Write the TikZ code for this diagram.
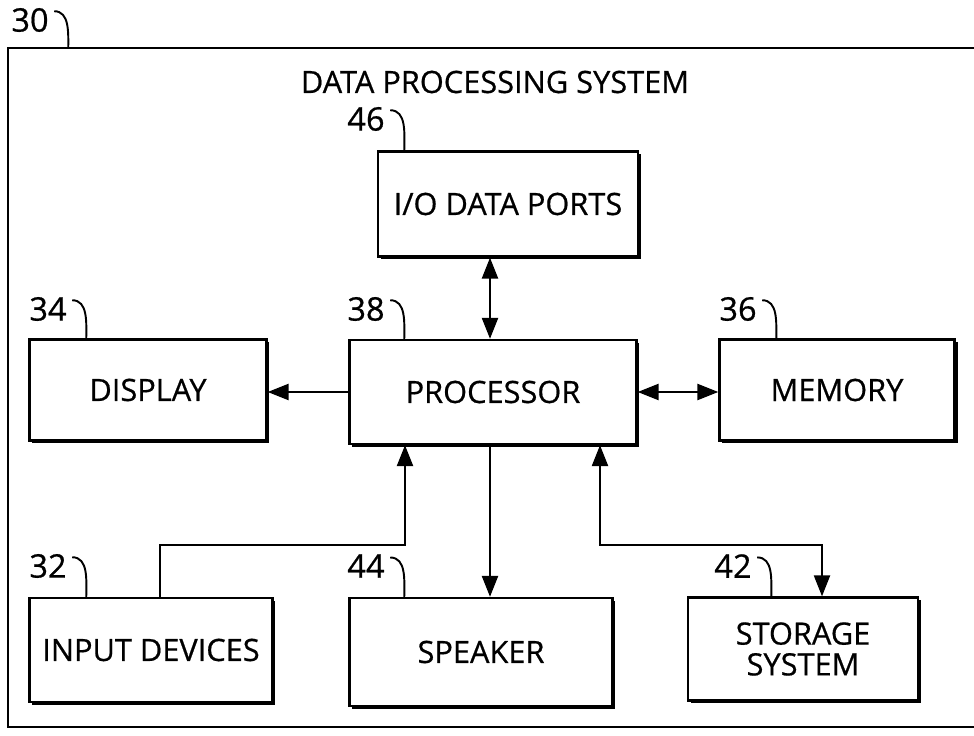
\documentclass[tikz,border=0pt]{standalone}
\usepackage{fontspec}
\setmainfont[FakeBold=0.6]{Open Sans}
\usetikzlibrary{arrows.meta,shadows}

\tikzset{
  blk/.style={draw, line width=1.2pt, fill=white, align=center, inner sep=2pt,
    drop shadow={shadow xshift=1.7pt, shadow yshift=-1.7pt, opacity=1, fill=black}},
  refnum/.style={inner sep=0pt, font=\fontsize{18.5}{18.5}\selectfont},
  hook/.style={line width=1.1pt},
  conn/.style={line width=1.6pt}
}

\begin{document}
\begin{tikzpicture}[x=0.2mm,y=-0.2mm,>={Triangle[length=12pt,width=9pt]},
                    font=\fontsize{17.5}{17.5}\selectfont]
        \useasboundingbox (0,0) rectangle (974,736);

        % outer frame, open on the right
        \coordinate (ftl) at (8,48);
        \draw[line width=1.4pt] (995,48) -- (ftl) -- (8,727) -- (995,727);
        \node[font=\fontsize{17.5}{17.5}\selectfont] (title) at (495,82) {DATA PROCESSING SYSTEM};

        % blocks
        \node[blk, minimum width=5.2cm,  minimum height=2.1cm]  (io)   at (508,204) {I/O DATA PORTS};
        \node[blk, minimum width=4.74cm, minimum height=2.02cm] (disp) at (148,390) {DISPLAY};
        \node[blk, minimum width=5.74cm, minimum height=2.08cm] (proc) at (493,392) {PROCESSOR};
        \node[blk, minimum width=4.7cm,  minimum height=2.02cm] (mem)  at (837,390) {MEMORY};
        \node[blk, minimum width=4.86cm, minimum height=2.08cm] (inp)  at (151,650) {INPUT DEVICES};
        \node[blk, minimum width=5.26cm, minimum height=2.16cm] (spk)  at (481,652) {SPEAKER};
        \node[blk, minimum width=4.6cm,  minimum height=2.06cm] (stor) at (803,649) {STORAGE\\SYSTEM};

        % reference numerals
        \node[refnum] (l30) at (30,20)   {30};
        \node[refnum] (l46) at (366,119) {46};
        \node[refnum] (l34) at (48,309)  {34};
        \node[refnum] (l38) at (366,309) {38};
        \node[refnum] (l36) at (738,309) {36};
        \node[refnum] (l32) at (48,566)  {32};
        \node[refnum] (l44) at (366,566) {44};
        \node[refnum] (l42) at (733,566) {42};

        \draw[hook] ([xshift=3pt,yshift=-2pt]l30.north east) to[out=0,in=90] ([xshift=11pt]l30.east |- ftl);
        \draw[hook] ([xshift=3pt,yshift=-2pt]l46.north east) to[out=0,in=90] ([xshift=11pt]l46.east |- io.north);
        \draw[hook] ([xshift=3pt,yshift=-2pt]l34.north east) to[out=0,in=90] ([xshift=11pt]l34.east |- disp.north);
        \draw[hook] ([xshift=3pt,yshift=-2pt]l38.north east) to[out=0,in=90] ([xshift=11pt]l38.east |- proc.north);
        \draw[hook] ([xshift=3pt,yshift=-2pt]l36.north east) to[out=0,in=90] ([xshift=11pt]l36.east |- mem.north);
        \draw[hook] ([xshift=3pt,yshift=-2pt]l32.north east) to[out=0,in=90] ([xshift=11pt]l32.east |- inp.north);
        \draw[hook] ([xshift=3pt,yshift=-2pt]l44.north east) to[out=0,in=90] ([xshift=11pt]l44.east |- spk.north);
        \draw[hook] ([xshift=3pt,yshift=-2pt]l42.north east) to[out=0,in=90] ([xshift=11pt]l42.east |- stor.north);

        % connectors
        \coordinate (mid)  at (490,0);
        \coordinate (inup) at (160,545);
        \coordinate (inin) at (405,545);
        \coordinate (stup) at (600,545);
        \coordinate (stdn) at (822,545);

        \draw[conn,<->] (mid |- io.south) -- (mid |- proc.north);
        \draw[conn,->]  (proc.west) -- (proc.west -| disp.east);
        \draw[conn,<->] (proc.east) -- (proc.east -| mem.west);
        \draw[conn,->]  (mid |- proc.south) -- (mid |- spk.north);
        \draw[conn,->]  (inup |- inp.north) -- (inup) -- (inin) -- (inin |- proc.south);
        \draw[conn,<->] (stup |- proc.south) -- (stup) -- (stdn) -- (stdn |- stor.north);
\end{tikzpicture}
\end{document}
